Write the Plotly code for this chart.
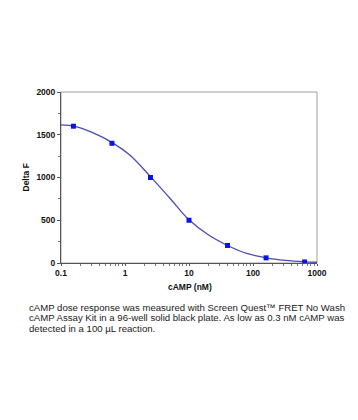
import plotly.graph_objects as go

# Measured data points
camp_nM = [0.15625, 0.625, 2.5, 10, 40, 160, 640]
delta_f = [1600, 1400, 1000, 500, 205, 60, 12]

# Fitted curve
curve_x = [0.1, 0.16, 0.3, 0.64, 1.2, 2.5, 5, 10, 20, 40, 80, 160, 320, 640, 1000]
curve_y = [1615, 1600, 1530, 1405, 1260, 1010, 760, 505, 330, 205, 112, 60, 30, 14, 9]

x_tickvals = [0.1, 1, 10, 100, 1000]
x_ticktext = ["0.1", "1", "10", "100", "1000"]
y_tickvals = [0, 500, 1000, 1500, 2000]

caption_lines = [
    "cAMP dose response was measured with Screen Quest™ FRET No Wash",
    "cAMP Assay Kit in a 96-well solid black plate. As low as 0.3 nM cAMP was",
    "detected in a 100 µL reaction.",
]

OFF = 8  # browser body margin
W, H = 358 - OFF, 420 - OFF
L, T = 61 - OFF, 92 - OFF
R = 358 - 317
B = 420 - 263
pw, ph = W - L - R, H - T - B


def px(rx):
    return (rx - OFF - L) / pw


def py(ry):
    return 1 - (ry - OFF - T) / ph


FONT = "Liberation Sans, Arial, sans-serif"

annotations = [
    dict(text="<b>Delta F</b>", xref="paper", yref="paper",
         x=px(25), y=0.5, textangle=-90, showarrow=False,
         font=dict(size=8.5, family=FONT), xanchor="center", yanchor="middle"),
    dict(text="<b>cAMP (nM)</b>", xref="paper", yref="paper",
         x=px(190), y=py(287), showarrow=False,
         font=dict(size=8.5, family=FONT), xanchor="center", yanchor="middle"),
]
for i, line in enumerate(caption_lines):
    annotations.append(dict(text=line, xref="paper", yref="paper", align="left",
                            x=px(27), y=py(307 + 10.6 * i), showarrow=False,
                            font=dict(size=9.6, family=FONT, color="#1a1a1a"),
                            xanchor="left", yanchor="middle"))

fig = go.Figure()
fig.add_trace(go.Scatter(x=curve_x, y=curve_y, mode="lines",
                         line=dict(color="#4a4ab8", width=1.3, shape="spline"),
                         hoverinfo="skip", showlegend=False))
fig.add_trace(go.Scatter(x=camp_nM, y=delta_f, mode="markers",
                         marker=dict(symbol="square", size=5, color="#0a14e0",
                                     line=dict(width=0)),
                         showlegend=False))

fig.update_layout(
    width=W, height=H,
    margin=dict(l=L, r=R, t=T, b=B, autoexpand=False),
    paper_bgcolor="white", plot_bgcolor="white",
    font=dict(family=FONT, color="#111"),
    shapes=[dict(type="rect", xref="paper", yref="paper", x0=0, x1=1, y0=0, y1=1,
                 line=dict(color="#a0a0a0", width=1), layer="below")],
    annotations=annotations,
)

fig.update_xaxes(type="log", range=[-1, 3], tickvals=x_tickvals, ticktext=x_ticktext,
                 showgrid=False, zeroline=False, showline=True, linecolor="#555",
                 linewidth=1, ticks="outside", ticklen=2, tickcolor="#555",
                 automargin=False,
                 tickfont=dict(size=8.5, family=FONT, weight="bold"),
                 minor=dict(ticks="outside", ticklen=2, tickcolor="#777",
                            tickvals=[0.2, 0.3, 0.4, 0.5, 0.6, 0.7, 0.8, 0.9,
                                      2, 3, 4, 5, 6, 7, 8, 9, 20, 30, 40, 50, 60, 70, 80, 90,
                                      200, 300, 400, 500, 600, 700, 800, 900]))
fig.update_yaxes(range=[0, 2000], tickvals=y_tickvals, showgrid=False, zeroline=False,
                 showline=True, linecolor="#555", linewidth=1, ticks="outside",
                 ticklen=3, tickcolor="#555", automargin=False,
                 tickfont=dict(size=8.5, family=FONT, weight="bold"),
                 minor=dict(ticks="outside", ticklen=2, tickcolor="#777", dtick=250))

fig.write_html("out.html")
